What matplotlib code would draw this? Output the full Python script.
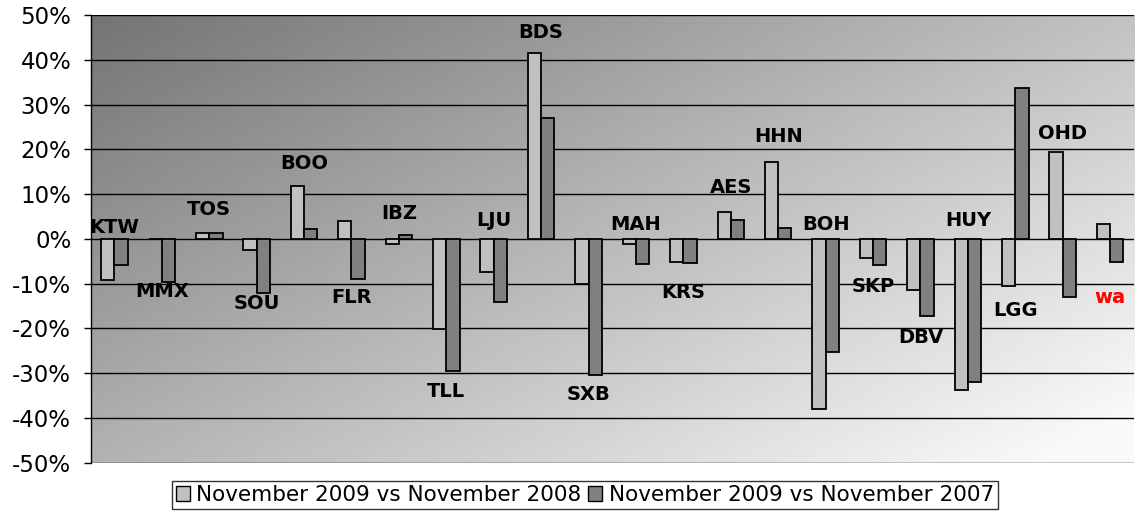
import numpy as np
import matplotlib.pyplot as plt
from matplotlib.patches import Patch
from matplotlib.ticker import FuncFormatter

# Airport codes and the two year-on-year changes (%)
airports = ['KTW', 'MMX', 'TOS', 'SOU', 'BOO', 'FLR', 'IBZ', 'TLL', 'LJU', 'BDS', 'SXB',
            'MAH', 'KRS', 'AES', 'HHN', 'BOH', 'SKP', 'DBV', 'HUY', 'LGG', 'OHD', 'wa']
vs_2008 = [-9.3, 0.0, 1.3, -2.5, 11.8, 3.9, -1.2, -20.2, -7.5, 41.6, -10.1,
           -1.2, -5.1, 6.0, 17.2, -37.9, -4.2, -11.4, -33.7, -10.6, 19.3, 3.4]
vs_2007 = [-5.8, -9.7, 1.3, -12.1, 2.2, -8.9, 0.8, -29.5, -14.2, 27.0, -30.3,
           -5.6, -5.5, 4.2, 2.5, -25.2, -5.9, -17.3, -31.9, 33.7, -13.0, -5.1]
# where each airport name sits (in %)
label_pos = [2.5, -11.8, 6.5, -14.5, 16.8, -13.2, 5.6, -34.1, 4.2, 46.0, -34.8,
             3.1, -12.0, 11.4, 22.8, 3.1, -10.7, -22.0, 4.2, -16.0, 23.5, -13.2]

fig = plt.figure(figsize=(11.38, 5.14), dpi=100)
ax = fig.add_axes([0.0797, 0.0998, 0.9166, 0.871])

n = len(airports)
x = np.arange(n)
w = 0.28

# diagonal grey gradient behind the bars
u, v = np.meshgrid(np.linspace(0, 1, 300), np.linspace(0, 1, 200))
grad = np.clip(116 + 78 * u + 62 * v, 0, 250) / 255.0
ax.imshow(grad, cmap='gray', vmin=0, vmax=1, extent=(-0.5, n - 0.5, -50, 50),
          origin='upper', aspect='auto', zorder=0)

for yv in range(-50, 51, 10):
    ax.axhline(yv, color='black', lw=1, zorder=1)

ax.bar(x - w / 2, vs_2008, w, color='#c0c0c0', edgecolor='black', lw=1.3, zorder=2)
ax.bar(x + w / 2, vs_2007, w, color='#808080', edgecolor='black', lw=1.3, zorder=2)

for i, name in enumerate(airports):
    col = 'red' if name == 'wa' else 'black'
    ax.text(x[i], label_pos[i], name, ha='center', va='center', fontsize=14,
            fontweight='bold', color=col, zorder=3)

ax.set_xlim(-0.5, n - 0.5)
ax.set_ylim(-50, 50)
ax.set_yticks(range(-50, 51, 10))
ax.yaxis.set_major_formatter(FuncFormatter(lambda val, p: f'{val:.0f}%'))
ax.tick_params(axis='y', labelsize=16.5, length=5, width=1, pad=9)
ax.set_xticks([])
for s in ['top', 'right', 'bottom']:
    ax.spines[s].set_visible(False)
ax.spines['left'].set_linewidth(1)

handles = [Patch(facecolor='#c0c0c0', edgecolor='black', label='November 2009 vs November 2008'),
           Patch(facecolor='#808080', edgecolor='black', label='November 2009 vs November 2007')]
fig.legend(handles=handles, loc='lower center', bbox_to_anchor=(0.514, -0.012), ncol=2,
           fontsize=15.5, frameon=True, fancybox=False, edgecolor='black',
           handlelength=0.65, handleheight=0.65, handletextpad=0.3, columnspacing=0.3,
           borderpad=0.2)

plt.savefig('out.png', dpi=100)
